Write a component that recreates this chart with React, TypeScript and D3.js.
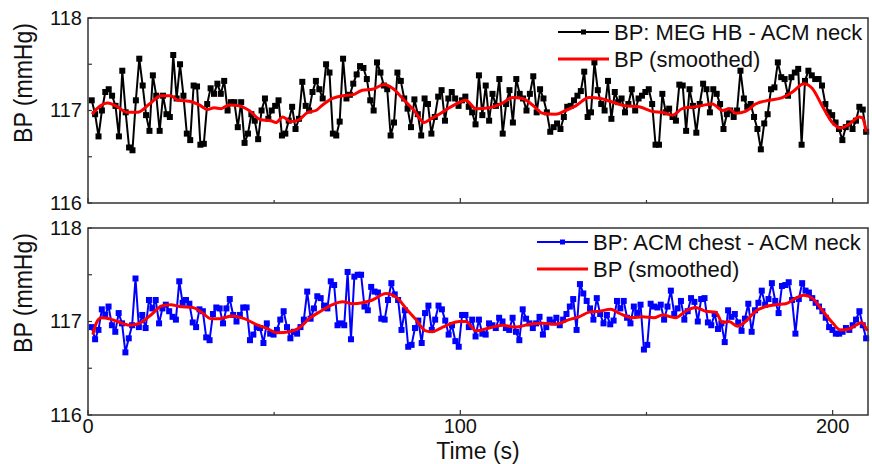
import React, { useRef, useEffect } from "react";
import * as d3 from "d3";

// sampled BP, top panel (MEG HB - ACM neck), one value per beat
const topRaw = [
  117.11, 116.96, 116.72, 117.0, 117.2, 117.23, 117.16, 117.05, 116.72, 117.43,
  116.98, 116.6, 116.57, 117.11, 117.56, 117.27, 116.95, 116.78, 117.38, 117.16,
  116.78, 117.16, 116.96, 116.93, 117.6, 117.13, 117.5, 117.16, 116.75, 116.68,
  117.27, 117.26, 116.63, 116.64, 117.07, 117.24, 117.18, 117.29, 117.18, 117.32,
  117.0, 117.09, 117.09, 116.82, 117.09, 116.65, 116.75, 116.96, 116.89, 116.69,
  117.0, 117.13, 116.91, 117.0, 117.05, 117.11, 116.73, 116.75, 116.89, 117.04,
  116.8, 116.91, 117.31, 117.05, 117.0, 117.2, 117.32, 117.23, 117.13, 117.5,
  117.41, 116.75, 116.73, 116.88, 117.56, 117.13, 117.17, 117.29, 117.39, 117.48,
  117.46, 117.34, 117.11, 117.0, 117.52, 117.41, 117.27, 117.23, 116.73, 116.87,
  117.41, 117.32, 117.13, 117.02, 116.82, 117.12, 116.96, 116.73, 117.13, 117.07,
  116.75, 116.93, 117.15, 117.22, 116.89, 117.13, 117.2, 117.13, 117.05, 117.11,
  117.15, 117.04, 116.98, 116.85, 117.38,
  116.95, 117.27, 116.89, 117.18, 117.05, 117.34, 116.75, 117.07, 117.22, 116.87,
  117.34, 117.18, 117.13, 117.0, 117.18, 117.37, 116.98, 117.23, 117.13, 116.98,
  116.77, 116.82, 116.86, 116.8, 116.93, 117.04, 117.05, 117.11, 117.16, 117.21,
  117.42, 116.93, 116.98, 117.52, 117.22, 117.07, 117.0, 117.32, 116.91, 117.2,
  117.09, 117.13, 116.98, 117.07, 117.23, 117.0, 117.13, 117.16, 117.2, 117.23,
  117.07, 116.63, 116.63, 117.18, 116.98, 117.02, 116.93, 116.89, 117.28, 117.27,
  116.78, 117.23, 117.05, 116.76, 117.07, 117.29, 117.23, 116.98, 117.23, 117.18,
  117.07, 116.8, 116.96, 117.0, 116.93, 117.0, 117.43, 117.13, 117.04, 117.07,
  116.93, 116.8, 116.58, 116.86, 116.96, 117.23, 117.25, 117.52, 117.36, 117.34,
  117.16, 117.36, 117.41, 117.45, 116.63, 117.32, 117.43, 117.38, 117.34, 117.34,
  117.27, 117.07, 116.98, 116.95, 116.87, 116.8, 116.68, 116.82, 116.86, 116.8,
  116.89, 117.04, 117.01, 116.77,
];

// smoothed BP, top panel (time in s, value in mmHg)
const topSmoothT = [
  1.1, 3.0, 5.3, 7.5, 10.6, 13.3, 16.5, 19.6, 22.3, 24.1, 27.2, 29.9, 32.1, 33.9, 35.7,
  37.9, 40.6, 43.3, 46.4, 49.1, 50.5, 52.3, 54.5, 56.7, 59.0, 61.2, 63.0, 65.7, 68.4,
  71.1, 73.7, 76.4, 79.5, 81.8, 84.5, 87.6, 90.3, 92.1, 94.3, 96.6, 98.8, 101.5, 104.2,
  107.7, 111.3, 114.0, 116.7, 119.4, 122.1, 125.6, 128.3, 131.0, 134.6, 137.7, 140.9,
  144.4, 148.0, 151.6, 154.3, 157.0, 159.6, 163.2, 167.7, 170.4, 172.2, 174.0, 176.6,
  179.3, 182.9, 186.5, 189.2, 192.3, 194.5, 197.2, 199.9, 202.1, 204.4, 207.1, 208.0, 209.0,
];
const topSmoothV = [
  116.96, 117.04, 117.08, 117.05, 116.98, 116.98, 117.07, 117.16, 117.16, 117.11, 117.1,
  117.06, 117.01, 117.03, 117.02, 117.06, 117.05, 117.0, 116.9, 116.89, 116.87, 116.93,
  116.88, 116.9, 116.98, 117.0, 117.06, 117.13, 117.16, 117.17, 117.22, 117.23, 117.28,
  117.24, 117.13, 117.0, 116.87, 116.91, 116.96, 117.02, 117.07, 117.11, 117.02,
  117.03, 117.08, 117.14, 117.13, 117.06, 116.97, 116.96, 117.0, 117.05, 117.14, 117.13,
  117.09, 117.05, 117.04, 116.99, 116.98, 116.95, 117.02, 117.04, 117.07, 117.0, 117.02,
  116.97, 116.99, 117.07, 117.11, 117.14, 117.2, 117.29, 117.24, 117.05, 116.87, 116.81,
  116.85, 116.93, 116.92, 116.77,
];

// sampled BP, bottom panel (ACM chest - ACM neck)
const botRaw = [
  116.94, 116.81, 116.91, 117.13, 117.07, 117.16, 116.96, 116.89, 117.09, 116.98,
  116.67, 116.82, 116.96, 117.46, 116.94, 117.07, 116.93, 117.23, 117.14, 117.23,
  116.98, 117.14, 117.18, 117.11, 117.05, 117.02, 117.43, 117.2, 117.23, 117.19,
  116.99, 116.94, 117.13, 117.11, 116.83, 116.8, 117.08, 117.15, 117.14, 116.98,
  117.14, 117.24, 117.07, 117.0, 117.07, 117.15, 117.15, 116.8, 116.86, 116.94,
  116.93, 116.77, 116.98, 116.87, 116.86, 116.91, 117.02, 117.11, 116.94, 116.82,
  116.89, 116.87, 116.94, 117.02, 117.32, 117.03, 117.14, 117.27, 117.25, 117.17,
  117.14, 117.43, 117.39, 116.96, 116.98, 116.96, 117.53, 116.81, 117.48, 117.5,
  117.5, 117.16, 117.12, 117.37, 117.32, 117.31, 117.03, 117.02, 117.23, 117.41,
  117.29, 117.23, 116.91, 117.12, 116.73, 116.75, 116.93, 117.01, 116.77, 117.09,
  117.17, 116.91, 117.02, 117.17, 117.13, 117.01, 116.86, 116.96, 116.79, 116.73,
  117.07,
  117.07, 116.94, 117.02, 116.84, 117.02, 116.87, 116.86, 116.98, 116.96, 116.93,
  117.04, 117.0, 116.93, 116.91, 117.04, 116.89, 116.8, 117.13, 117.03, 116.98,
  116.93, 116.98, 117.05, 116.86, 116.94, 117.02, 116.99, 117.04, 116.96, 117.02,
  117.08, 117.16, 117.24, 116.91, 117.4, 117.3, 117.22, 117.14, 117.02, 117.25,
  117.08, 116.98, 117.07, 116.97, 117.01, 117.22, 117.14, 117.22, 117.04, 116.98,
  117.16, 117.09, 117.18, 116.7, 116.75, 117.19, 117.16, 117.15, 117.18, 117.02,
  117.16, 117.33, 117.08, 117.14, 117.22, 117.02, 117.11, 117.25, 117.21, 117.0,
  117.24, 117.25, 116.99, 116.96, 117.08, 116.92, 116.98, 116.78, 117.12, 117.05,
  117.08, 116.99, 116.9, 117.03, 117.19, 116.89, 117.12, 117.2, 117.33, 117.18,
  117.24, 117.41, 117.22, 117.09, 117.38, 117.39, 117.42, 117.23, 116.87, 117.24,
  117.41, 117.33, 117.31, 117.25, 117.2, 117.16, 117.11, 117.04, 116.94, 116.91,
  116.87, 116.87, 116.89, 116.93, 116.91, 116.96, 117.02, 117.11, 116.96, 116.82,
];

// smoothed BP, bottom panel
const botSmoothT = [
  1.3, 2.2, 3.5, 5.7, 7.9, 11.1, 13.8, 16.9, 20.0, 22.3, 24.5, 28.1, 30.8, 33.0, 35.3,
  38.8, 42.0, 45.1, 47.8, 50.9, 54.1, 56.7, 59.4, 62.5, 65.7, 68.4, 71.1, 73.7, 76.4,
  80.0, 83.1, 85.4, 88.1, 90.7, 92.5, 94.8, 97.0, 99.7, 101.5, 103.3, 104.2, 107.7,
  111.3, 114.9, 118.5, 122.1, 125.6, 129.2, 131.9, 134.6, 137.3, 140.4, 142.6, 146.2,
  148.9, 152.0, 154.3, 157.8, 160.5, 163.2, 165.9, 168.6, 170.4, 172.2, 174.4, 176.6,
  179.3, 182.0, 184.7, 187.4, 190.1, 192.3, 194.5, 197.2, 199.9, 202.1, 204.4, 206.2,
  207.8, 209.3,
];
const botSmoothV = [
  116.86, 116.98, 117.04, 117.03, 117.0, 116.96, 116.98, 117.07, 117.17, 117.18, 117.16,
  117.15, 117.09, 117.03, 117.03, 117.06, 117.03, 116.97, 116.93, 116.88, 116.89, 116.93,
  117.03, 117.11, 117.18, 117.21, 117.19, 117.2, 117.23, 117.3, 117.25, 117.14, 117.02,
  116.9, 116.89, 116.93, 116.97, 117.0, 117.0, 116.93, 116.9, 116.93, 116.96, 116.94,
  116.97, 116.98, 116.97, 117.02, 117.05, 117.1, 117.11, 117.13, 117.09, 117.04, 117.05,
  117.04, 117.07, 117.04, 117.11, 117.15, 117.11, 117.1, 116.99, 117.0, 116.95, 117.0,
  117.11, 117.16, 117.18, 117.19, 117.25, 117.28, 117.25, 117.12, 116.99, 116.91, 116.92,
  116.96, 116.99, 116.9,
];

const rawTimeSpan = [1, 209];
const xTicks = [0, 100, 200];
const xMinorTicks = [50, 150];
const yTicks = [116, 117, 118];
const yMinorTicks = [116.5, 117.5];

const panels = [
  {
    raw: topRaw,
    smoothT: topSmoothT,
    smoothV: topSmoothV,
    color: "#000000",
    label: "BP: MEG HB - ACM neck",
    top: 18,
    bottom: 203,
    legendX: 558,
  },
  {
    raw: botRaw,
    smoothT: botSmoothT,
    smoothV: botSmoothV,
    color: "#0000ff",
    label: "BP: ACM chest - ACM neck",
    top: 228,
    bottom: 415,
    legendX: 537,
  },
];

const W = 872;
const H = 464;
const FONT = "'Liberation Sans', Arial, sans-serif";

export default function App() {
  const svgRef = useRef<SVGSVGElement | null>(null);

  useEffect(() => {
    drawChart();
  }, []);

  function drawChart() {
    const svg = d3.select(svgRef.current);
    svg.selectAll("*").remove();

    const left = 88;
    const right = 868;

    const xScale = d3.scaleLinear().domain([0, 209.5]).range([left, right]);

    panels.forEach((p, pi) => {
      const yScale = d3.scaleLinear().domain([116, 118]).range([p.bottom, p.top]);
      const g = svg.append("g");

      // ticks on the inside of the frame
      xTicks.forEach((t) => {
        g.append("line")
          .attr("x1", xScale(t)).attr("x2", xScale(t))
          .attr("y1", p.bottom).attr("y2", p.bottom - 5)
          .attr("stroke", "#333").attr("stroke-width", 1.2);
      });
      xMinorTicks.forEach((t) => {
        g.append("line")
          .attr("x1", xScale(t)).attr("x2", xScale(t))
          .attr("y1", p.bottom).attr("y2", p.bottom - 3)
          .attr("stroke", "#333").attr("stroke-width", 1.2);
      });
      [...yTicks, ...yMinorTicks].forEach((t) => {
        g.append("line")
          .attr("x1", left).attr("x2", left + 4)
          .attr("y1", yScale(t)).attr("y2", yScale(t))
          .attr("stroke", "#333").attr("stroke-width", 1.2);
      });

      // y tick labels
      yTicks.forEach((t) => {
        g.append("text")
          .attr("x", left - 6)
          .attr("y", yScale(t) + 6.5)
          .attr("text-anchor", "end")
          .attr("font-family", FONT)
          .attr("font-size", 20)
          .attr("fill", "#111")
          .text(t);
      });

      // y axis title (sits in the upper part of the panel, narrow glyphs)
      g.append("text")
        .attr("transform", `translate(32,${p.top + 65}) rotate(-90)`)
        .attr("text-anchor", "middle")
        .attr("font-family", FONT)
        .attr("font-size", 25)
        .attr("textLength", 120)
        .attr("lengthAdjust", "spacingAndGlyphs")
        .attr("fill", "#111")
        .text("BP (mmHg)");

      // raw series
      const n = p.raw.length;
      const tScale = d3.scaleLinear().domain([0, n - 1]).range(rawTimeSpan);
      const rawPts: [number, number][] = p.raw.map((v, i) => [tScale(i), v]);

      const line = d3
        .line<[number, number]>()
        .x((d) => xScale(d[0]))
        .y((d) => yScale(d[1]));

      g.append("path")
        .datum(rawPts)
        .attr("fill", "none")
        .attr("stroke", p.color)
        .attr("stroke-width", 2)
        .attr("stroke-linejoin", "round")
        .attr("d", line);

      g.selectAll("rect.mk")
        .data(rawPts)
        .enter()
        .append("rect")
        .attr("class", "mk")
        .attr("x", (d) => xScale(d[0]) - 3)
        .attr("y", (d) => yScale(d[1]) - 3)
        .attr("width", 6)
        .attr("height", 6)
        .attr("fill", p.color);

      // smoothed series
      const smPts: [number, number][] = p.smoothT.map((t, i) => [t, p.smoothV[i]]);
      g.append("path")
        .datum(smPts)
        .attr("fill", "none")
        .attr("stroke", "#ff0000")
        .attr("stroke-width", 3)
        .attr("stroke-linejoin", "round")
        .attr("d", line.curve(d3.curveMonotoneX));

      // legend
      const ly1 = p.top + 14;
      const ly2 = p.top + 41;
      const lx = p.legendX;
      g.append("line")
        .attr("x1", lx).attr("x2", lx + 51)
        .attr("y1", ly1).attr("y2", ly1)
        .attr("stroke", p.color).attr("stroke-width", 2);
      g.append("rect")
        .attr("x", lx + 25.5 - 2.5).attr("y", ly1 - 2.5)
        .attr("width", 5).attr("height", 5)
        .attr("fill", p.color);
      g.append("text")
        .attr("x", lx + 56).attr("y", ly1 + 8)
        .attr("font-family", FONT).attr("font-size", 22).attr("fill", "#111")
        .text(p.label);
      g.append("line")
        .attr("x1", lx).attr("x2", lx + 51)
        .attr("y1", ly2).attr("y2", ly2)
        .attr("stroke", "#ff0000").attr("stroke-width", 3);
      g.append("text")
        .attr("x", lx + 56).attr("y", ly2 + 8)
        .attr("font-family", FONT).attr("font-size", 22).attr("fill", "#111")
        .text("BP (smoothed)");

      // frame
      g.append("rect")
        .attr("x", left).attr("y", p.top)
        .attr("width", right - left).attr("height", p.bottom - p.top)
        .attr("fill", "none").attr("stroke", "#333").attr("stroke-width", 1.5);

      // x tick labels only under the lower panel
      if (pi === panels.length - 1) {
        xTicks.forEach((t) => {
          g.append("text")
            .attr("x", xScale(t))
            .attr("y", p.bottom + 18)
            .attr("text-anchor", "middle")
            .attr("font-family", FONT)
            .attr("font-size", 20)
            .attr("fill", "#111")
            .text(t);
        });
        g.append("text")
          .attr("x", (left + right) / 2)
          .attr("y", p.bottom + 44)
          .attr("text-anchor", "middle")
          .attr("font-family", FONT)
          .attr("font-size", 23)
          .attr("fill", "#111")
          .text("Time (s)");
      }
    });
  }

  return (
    <svg
      ref={svgRef}
      width={W}
      height={H}
      style={{ position: "absolute", left: 0, top: 0, background: "#fff" }}
    />
  );
}
